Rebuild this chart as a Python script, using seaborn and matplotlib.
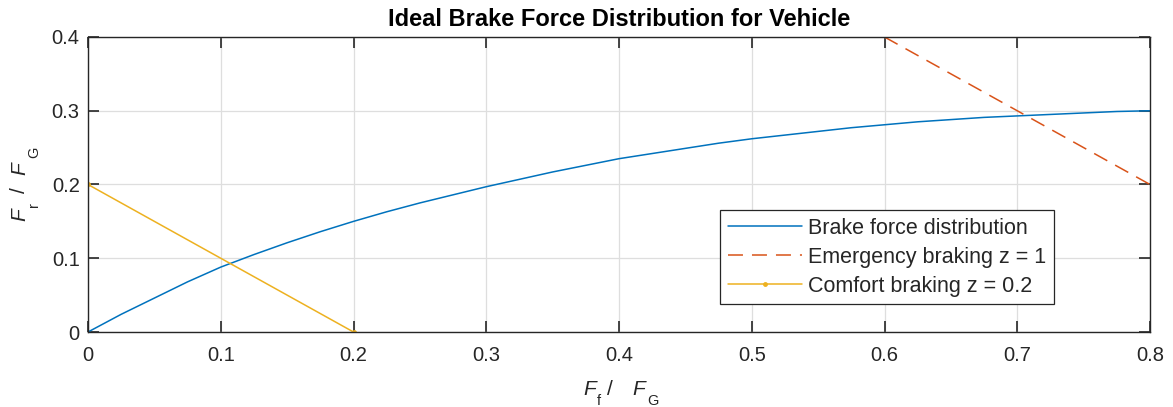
import matplotlib
matplotlib.use("Agg")
import matplotlib.pyplot as plt
import seaborn as sns
import pandas as pd

# Data
ff_curve = [0, 0.025, 0.05, 0.075, 0.10, 0.125, 0.15, 0.175, 0.20, 0.225, 0.25, 0.275,
            0.30, 0.325, 0.35, 0.375, 0.40, 0.425, 0.45, 0.475, 0.50, 0.525, 0.55, 0.575,
            0.60, 0.625, 0.65, 0.675, 0.70, 0.725, 0.75, 0.775, 0.80]
fr_curve = [0, 0.024, 0.046, 0.068, 0.088, 0.105, 0.121, 0.136, 0.150, 0.163, 0.175, 0.186,
            0.197, 0.207, 0.217, 0.226, 0.235, 0.242, 0.249, 0.256, 0.262, 0.267, 0.272, 0.277,
            0.281, 0.285, 0.288, 0.291, 0.293, 0.295, 0.297, 0.299, 0.300]
ff_emerg = [0.6, 0.8]
fr_emerg = [0.4, 0.2]
ff_comfort = [0.0, 0.2]
fr_comfort = [0.2, 0.0]
xticks = [0, 0.1, 0.2, 0.3, 0.4, 0.5, 0.6, 0.7, 0.8]
yticks = [0, 0.1, 0.2, 0.3, 0.4]
labels = ["Brake force distribution", "Emergency braking z = 1", "Comfort braking z = 0.2"]
title = "Ideal Brake Force Distribution for Vehicle"

sns.set_theme(style="whitegrid")
plt.rcParams['font.family'] = ['Liberation Sans', 'DejaVu Sans']

W, H = 1173, 407
fig = plt.figure(figsize=(W / 100, H / 100), dpi=100)
ax = fig.add_axes([88 / W, 1 - 332 / H, (1150 - 88) / W, (332 - 37) / H])

df1 = pd.DataFrame({"x": ff_curve, "y": fr_curve})
df2 = pd.DataFrame({"x": ff_emerg, "y": fr_emerg})
df3 = pd.DataFrame({"x": ff_comfort, "y": fr_comfort})

sns.lineplot(data=df1, x="x", y="y", ax=ax, color="#0072BD", linewidth=1.1,
             label=labels[0], sort=False)
sns.lineplot(data=df2, x="x", y="y", ax=ax, color="#D95319", linewidth=1.1,
             dashes=False, label=labels[1], sort=False)
ax.lines[-1].set_dashes([9.8, 5.9])
sns.lineplot(data=df3, x="x", y="y", ax=ax, color="#EDB120", linewidth=1.1,
             marker="o", markersize=3.5, markeredgewidth=0, label=labels[2], sort=False)

ax.set_xlim(0, 0.8)
ax.set_ylim(0, 0.4)
ax.set_xticks(xticks)
ax.set_yticks(yticks)
ax.set_xticklabels([f"{v:g}" for v in xticks])
ax.set_yticklabels([f"{v:g}" for v in yticks])

ax.set_facecolor("white")
ax.grid(True, color="#dedede", linewidth=0.9)
for s in ax.spines.values():
    s.set_visible(True)
    s.set_color("#262626")
    s.set_linewidth(1.0)
ax.tick_params(axis="both", which="both", direction="in", length=8, width=1.2,
               color="#262626", labelsize=14.5, labelcolor="#262626",
               top=True, right=True, bottom=True, left=True)
ax.tick_params(axis="x", pad=10)
ax.tick_params(axis="y", pad=6)

ax.set_title(title, fontsize=17, fontweight="bold", color="black", pad=8)
ax.set_xlabel("")
ax.set_ylabel("")

# Axis labels composed as F_sub / F_G pieces (MATLAB-style subscripts)
def piece(txt, px, py, size, style="normal", rot=0):
    fig.text(px / W, 1 - py / H, txt, fontsize=size, style=style, color="#262626",
             ha="left", va="baseline", rotation=rot, rotation_mode="anchor")

# x label
piece("F", 583, 395, 15, "italic")
piece("f", 597, 405, 10.5)
piece("/", 607, 395, 15)
piece("F", 632, 395, 15, "italic")
piece("G", 647, 405, 10.5)
# y label (rotated)
piece("F", 25, 221, 15, "italic", 90)
piece("r", 38, 207, 10.5, rot=90)
piece("/", 25, 193, 15, rot=90)
piece("F", 25, 175, 15, "italic", 90)
piece("G", 38, 158, 10.5, rot=90)

leg = ax.legend(loc="upper right", bbox_to_anchor=((1054 - 88) / 1062, (332 - 210) / 295),
                borderaxespad=0, fontsize=15.5,
                frameon=True, fancybox=False, framealpha=1, edgecolor="#262626",
                borderpad=0.36, labelspacing=0.37, handlelength=3.44, handletextpad=0.28)
leg.get_frame().set_linewidth(0.9)

fig.savefig("out.png", dpi=100, facecolor="white")
